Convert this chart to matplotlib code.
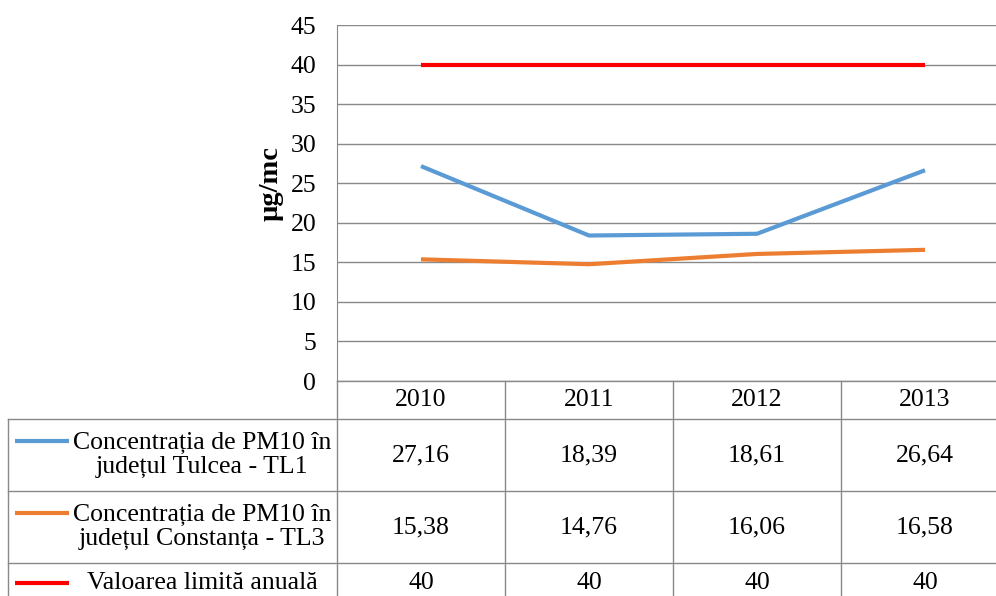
import matplotlib
matplotlib.use('Agg')
import matplotlib.pyplot as plt
from matplotlib.lines import Line2D

years = ['2010', '2011', '2012', '2013']
tulcea = [27.16, 18.39, 18.61, 26.64]
constanta = [15.38, 14.76, 16.06, 16.58]
limita = [40, 40, 40, 40]

labels = ['Concentrația de PM10 în\njudețul Tulcea - TL1',
          'Concentrația de PM10 în\njudețul Constanța - TL3',
          'Valoarea limită anuală']
colors = ['#5B9BD5', '#ED7D31', '#FF0000']
series = [tulcea, constanta, limita]

plt.rcParams['font.family'] = ['Liberation Serif', 'DejaVu Serif']
W, H = 996, 596
fig = plt.figure(figsize=(W / 100, H / 100), dpi=100)
fs = 18.5

grid_c = '#898989'
# plot area in pixels (left, top, right, bottom)
L, T, R, B = 337, 25, 1009, 381
ax = fig.add_axes([L / W, 1 - B / H, (R - L) / W, (B - T) / H])
x = list(range(len(years)))
for s, c in zip(series, colors):
    ax.plot(x, s, color=c, lw=3, solid_capstyle='butt', zorder=3)
ax.set_xlim(-0.5, len(years) - 0.5)
ax.set_ylim(0, 45)
ax.set_yticks(range(0, 46, 5))
ax.set_xticks([])
ax.tick_params(axis='y', length=0, labelsize=fs, pad=15, colors='#000000')
ax.grid(axis='y', color=grid_c, lw=1)
for sp in ['top', 'right', 'bottom']:
    ax.spines[sp].set_visible(False)
ax.spines['left'].set_color(grid_c)
ax.set_ylabel('µg/mc', fontsize=20.5, fontweight='bold')
ax.yaxis.set_label_coords(-0.08, 0.556)

# data table in pixel coordinates
tab = fig.add_axes([0, 0, 1, 1])
tab.set_xlim(0, W)
tab.set_ylim(H, 0)
tab.axis('off')

def px_x(i):
    return ax.transData.transform((i, 0))[0]

edges = [px_x(i - 0.5) for i in range(len(years) + 1)]
rows = [381, 419, 491, 563, 640]
left = 8

def hline(x0, x1, y):
    tab.add_line(Line2D([x0, x1], [y, y], color=grid_c, lw=1))

def vline(xx, y0, y1):
    tab.add_line(Line2D([xx, xx], [y0, y1], color=grid_c, lw=1))

hline(edges[0], W, rows[0])
for y in rows[1:4]:
    hline(left, W, y)
vline(left, rows[1], H)
for e in edges:
    vline(e, rows[0], H)

for i, yr in enumerate(years):
    tab.text(px_x(i), (rows[0] + rows[1]) / 2, yr, ha='center', va='center', fontsize=fs)

for r, (lab, c, s) in enumerate(zip(labels, colors, series)):
    yc = (rows[r + 1] + rows[r + 2]) / 2 if r < 2 else 583
    first = yc - 14 if '\n' in lab else yc
    tab.add_line(Line2D([15, 69], [first, first], color=c, lw=3, solid_capstyle='butt'))
    tab.text(202, yc, lab, ha='center', va='center', fontsize=fs, multialignment='center',
             linespacing=1.15)
    for i, v in enumerate(s):
        txt = ('%.2f' % v).replace('.', ',') if isinstance(v, float) else str(v)
        tab.text(px_x(i), yc, txt, ha='center', va='center', fontsize=fs)

fig.savefig('out.png', dpi=100)
